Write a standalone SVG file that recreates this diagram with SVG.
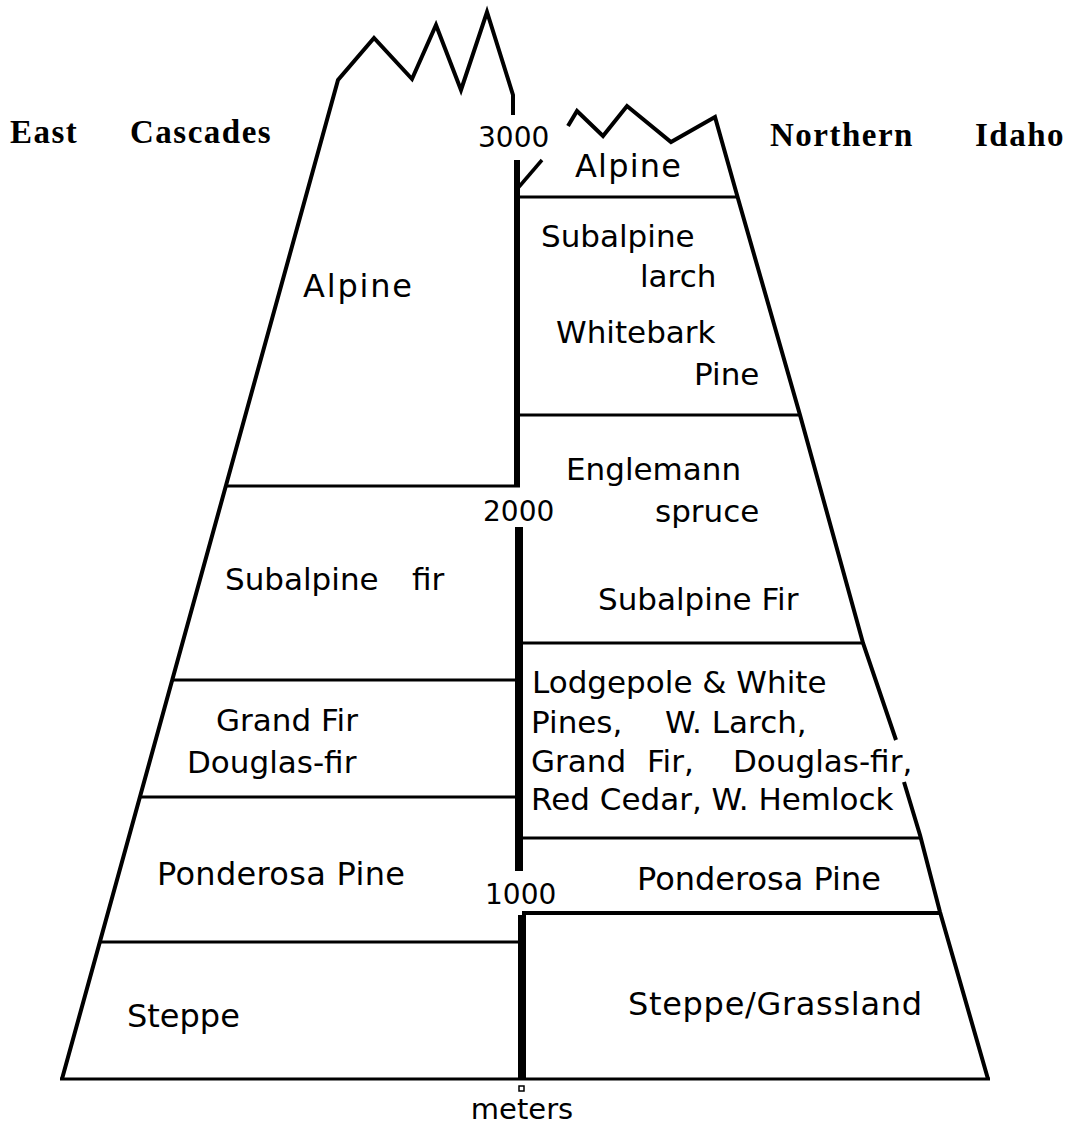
<svg xmlns="http://www.w3.org/2000/svg" width="1074" height="1134" viewBox="0 0 1074 1134">
<style>
.o{fill:none;stroke:#000;stroke-width:4;stroke-linejoin:miter;stroke-linecap:butt}
.h{fill:none;stroke:#000;stroke-width:3}
.ax{fill:none;stroke:#000;stroke-width:8}
.t{font-family:"DejaVu Sans",Verdana,sans-serif;font-size:32px;fill:#000}
.s{font-size:31px}
.n{font-family:"DejaVu Sans",Verdana,sans-serif;font-size:28px;fill:#000}
.b{font-family:"Liberation Serif","Times New Roman",serif;font-weight:bold;font-size:33px;fill:#000;letter-spacing:1.5px}
</style>
<rect width="1074" height="1134" fill="#fff"/>
<g id="outlines">
<path class="o" d="M62,1079 L338,80 L374,38 L412,79 L436,25 L461,90 L487,12 L513,95 L513,115"/>
<path class="o" d="M568,126 L577,111 L603,136 L627,106 L671,142 L715,117 L737,195 L800,415 L863,643 L896,740"/>
<path class="o" d="M904,782 L920,835 L940,912 L988,1079"/>
<path class="h" d="M60,1079 H990"/>
</g>
<g id="axis">
<path class="o" d="M517,160 V486" style="stroke-width:6"/>
<path class="o" d="M518,188 L542,160" style="stroke-width:3.5"/>
<path class="ax" d="M519,527 V871"/>
<path class="ax" d="M522,915 V1080"/>
<rect x="519" y="1086" width="5" height="5" fill="none" stroke="#000" stroke-width="1.5"/>
</g>
<g id="zone-lines">
<path class="h" d="M226,486 H520"/>
<path class="h" d="M173,680 H517"/>
<path class="h" d="M140,797 H517"/>
<path class="h" d="M101,942 H518"/>
<path class="h" d="M517,197 H738"/>
<path class="h" d="M517,415 H800"/>
<path class="h" d="M519,643 H863"/>
<path class="h" d="M519,838 H920"/>
<path class="h" d="M522,913 H940" style="stroke-width:4"/>
</g>
<g id="titles">
<text class="b" x="10" y="143">East <tspan x="130">Cascades</tspan></text>
<text class="b" x="770" y="146">Northern <tspan x="975">Idaho</tspan></text>
</g>
<g id="scale">
<text class="n" x="478" y="147">3000</text>
<text class="n" x="483" y="521">2000</text>
<text class="n" x="485" y="904">1000</text>
<text class="n" x="522" y="1119" text-anchor="middle" style="font-size:29px">meters</text>
</g>
<g id="east-zones">
<text class="t" x="303" y="297" textLength="109">Alpine</text>
<text class="t s" x="225" y="590">Subalpine <tspan x="412">fir</tspan></text>
<text class="t s" x="216" y="731">Grand Fir</text>
<text class="t s" x="187" y="773">Douglas-fir</text>
<text class="t" x="157" y="885" textLength="248">Ponderosa Pine</text>
<text class="t" x="127" y="1027">Steppe</text>
</g>
<g id="idaho-zones">
<text class="t" x="575" y="177" textLength="106">Alpine</text>
<text class="t s" x="541" y="247">Subalpine</text>
<text class="t s" x="640" y="287">larch</text>
<text class="t s" x="556" y="343">Whitebark</text>
<text class="t s" x="694" y="385">Pine</text>
<text class="t s" x="566" y="480">Englemann</text>
<text class="t s" x="655" y="522">spruce</text>
<text class="t s" x="598" y="610">Subalpine Fir</text>
<text class="t s" x="532" y="693">Lodgepole &amp; White</text>
<text class="t s" x="531" y="733">Pines, <tspan x="665">W. Larch,</tspan></text>
<text class="t s" x="531" y="772">Grand <tspan x="647">Fir,</tspan> <tspan x="733">Douglas-fir,</tspan></text>
<text class="t s" x="531" y="810">Red Cedar, W. Hemlock</text>
<text class="t" x="637" y="890">Ponderosa Pine</text>
<text class="t" x="628" y="1015" textLength="294">Steppe/Grassland</text>
</g>
</svg>
